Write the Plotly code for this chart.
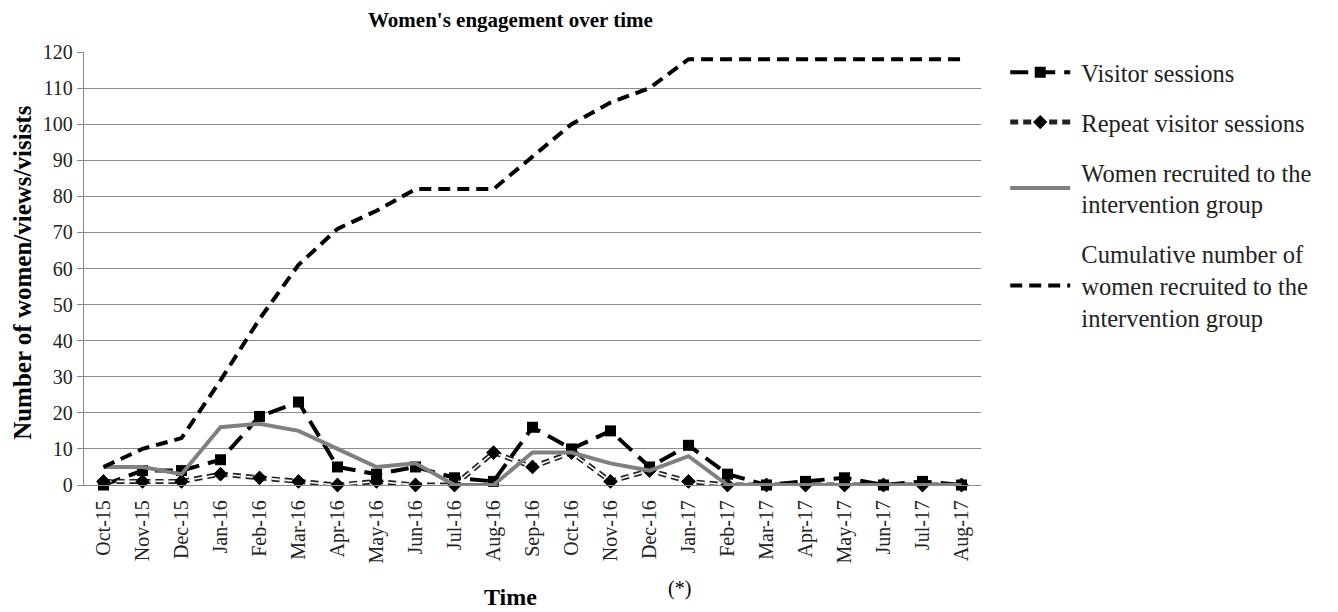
import plotly.graph_objects as go

months = ["Oct-15", "Nov-15", "Dec-15", "Jan-16", "Feb-16", "Mar-16", "Apr-16", "May-16",
          "Jun-16", "Jul-16", "Aug-16", "Sep-16", "Oct-16", "Nov-16", "Dec-16", "Jan-17",
          "Feb-17", "Mar-17", "Apr-17", "May-17", "Jun-17", "Jul-17", "Aug-17"]
visitor_sessions = [0, 4, 4, 7, 19, 23, 5, 3, 5, 2, 1, 16, 10, 15, 5, 11, 3, 0, 1, 2, 0, 1, 0]
repeat_sessions = [1, 1, 1, 3, 2, 1, 0, 1, 0, 0, 9, 5, 9, 1, 4, 1, 0, 0, 0, 0, 0, 0, 0]
women_recruited = [5, 5, 3, 16, 17, 15, 10, 5, 6, 0, 0, 9, 9, 6, 4, 8, 0, 0, 0, 0, 0, 0, 0]
cumulative = [5, 10, 13, 29, 46, 61, 71, 76, 82, 82, 82, 91, 100, 106, 110, 118,
              118, 118, 118, 118, 118, 118, 118]
y_ticks = list(range(0, 121, 10))

FONT = "Liberation Serif"
NB = "\u00a0"
fig = go.Figure()

fig.add_trace(go.Scatter(
    x=months, y=visitor_sessions, name=NB + "Visitor sessions", mode="lines+markers",
    line=dict(color="black", width=4, dash="18px,9px"),
    marker=dict(symbol="square", size=11, color="black"),
    legendgroup="a", cliponaxis=False))
fig.add_trace(go.Scatter(
    x=months, y=repeat_sessions, name=NB + "Repeat visitor sessions", mode="lines+markers",
    line=dict(color="#222222", width=5, dash="8px,5px"),
    marker=dict(symbol="diamond", size=11, color="black"),
    legendgroup="b", cliponaxis=False))
fig.add_trace(go.Scatter(
    x=months, y=repeat_sessions, mode="lines", showlegend=False, hoverinfo="skip",
    line=dict(color="white", width=1.6, dash="8px,5px"), legendgroup="b", cliponaxis=False))
fig.add_trace(go.Scatter(
    x=months, y=repeat_sessions, mode="markers", showlegend=False,
    marker=dict(symbol="diamond", size=11, color="black"), legendgroup="b", cliponaxis=False))
fig.add_trace(go.Scatter(
    x=months, y=women_recruited,
    name=NB + "Women recruited to the<br>" + NB + "intervention group",
    mode="lines", line=dict(color="#808080", width=4), legendgroup="c", cliponaxis=False))
fig.add_trace(go.Scatter(
    x=months, y=cumulative,
    name=NB + "Cumulative number of<br>" + NB + "women recruited to the<br>" + NB + "intervention group",
    mode="lines", line=dict(color="black", width=4, dash="12px,7px"),
    legendgroup="d", cliponaxis=False))

fig.update_layout(
    width=1330, height=604,
    margin=dict(l=76, r=357, t=44, b=127),
    plot_bgcolor="white", paper_bgcolor="white",
    font=dict(family=FONT, color="#222222", size=20),
    legend=dict(x=1.027, y=1.005, xanchor="left", yanchor="top",
                font=dict(family=FONT, size=24.5, color="#222222"),
                traceorder="grouped", tracegroupgap=15, itemwidth=60,
                bgcolor="rgba(0,0,0,0)"),
    showlegend=True,
)
fig.update_xaxes(
    type="category", range=[-0.5, len(months) - 0.5], tickangle=-90,
    showgrid=False, showline=True, linecolor="#888888", linewidth=1.3,
    ticks="", ticklabelstandoff=6, tickfont=dict(family=FONT, size=20, color="#222222"))
fig.update_yaxes(
    range=[0, 120], tickvals=y_ticks, showgrid=True, gridcolor="#8c8c8c", gridwidth=1.3,
    zeroline=False, showline=True, linecolor="#888888", linewidth=1.3,
    ticks="outside", ticklen=6, tickcolor="#888888",
    tickfont=dict(family=FONT, size=20, color="#222222"))

fig.add_annotation(text="<b>Women's engagement over time</b>", xref="paper", yref="paper",
                   x=0.475, y=1.074, xanchor="center", yanchor="middle", showarrow=False,
                   font=dict(family=FONT, size=21, color="black"))
fig.add_annotation(text="<b>Time</b>", xref="paper", yref="paper",
                   x=0.475, y=-0.259, xanchor="center", yanchor="middle", showarrow=False,
                   font=dict(family=FONT, size=24, color="black"))
fig.add_annotation(text="(*)", xref="paper", yref="paper",
                   x=0.6644, y=-0.238, xanchor="center", yanchor="middle", showarrow=False,
                   font=dict(family=FONT, size=20, color="black"))
fig.add_annotation(text="<b>Number of women/views/visists</b>", xref="paper", yref="paper",
                   x=-0.068, y=0.49, xanchor="center", yanchor="middle",
                   showarrow=False, textangle=-90, borderpad=0,
                   font=dict(family=FONT, size=25, color="black"))

fig.write_html("out.html")
